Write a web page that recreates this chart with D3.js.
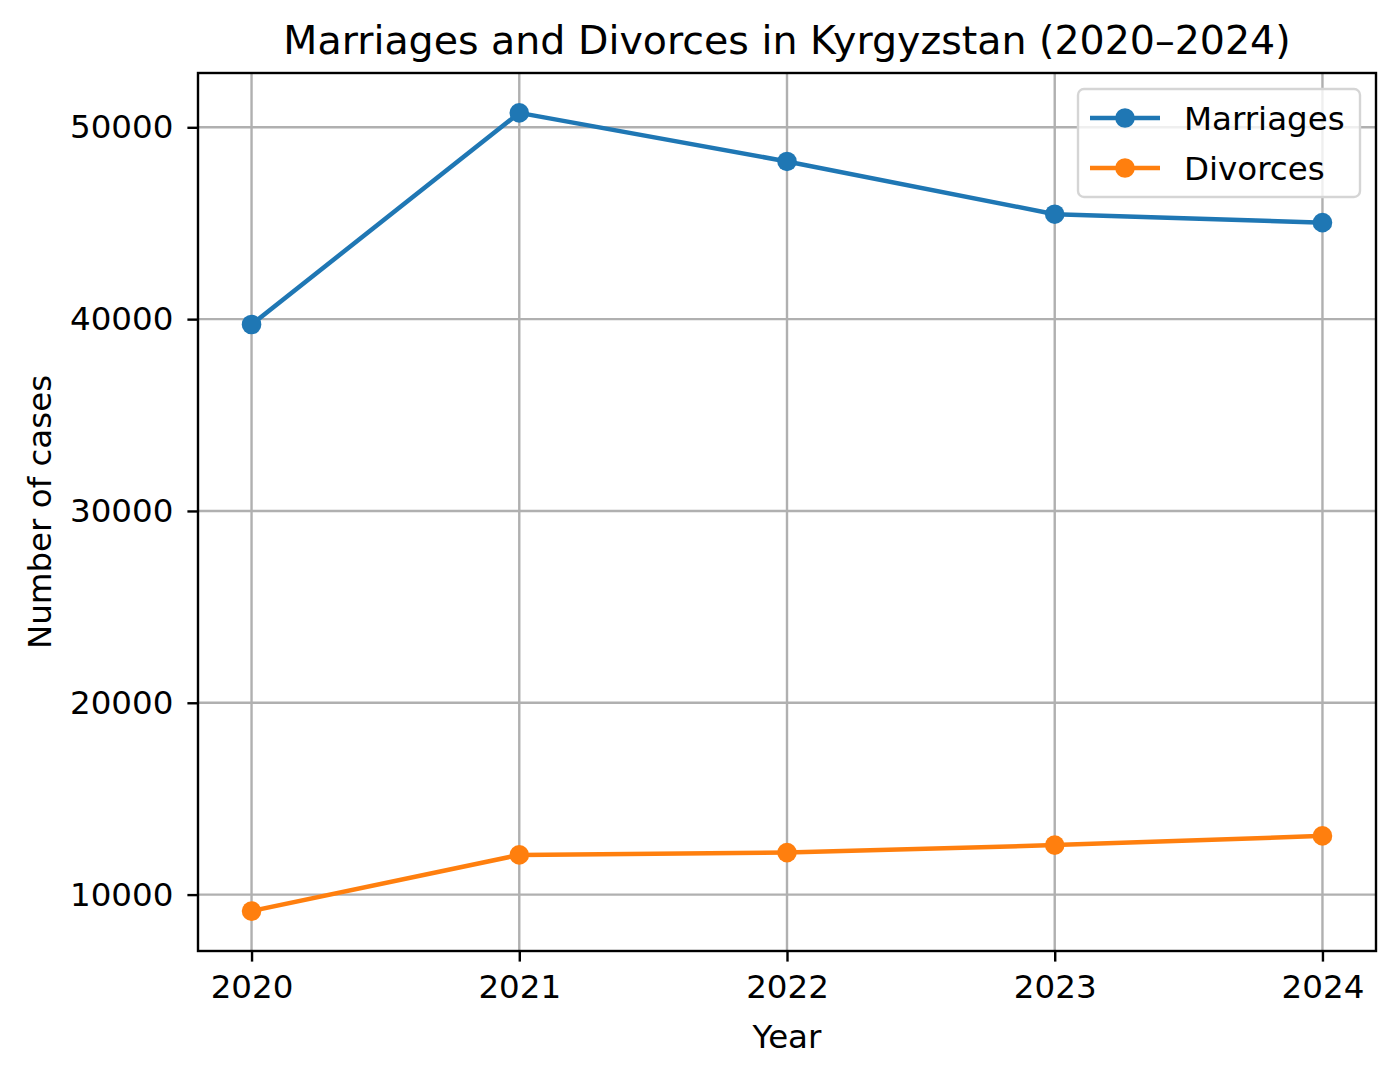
<!DOCTYPE html>
<html><head><meta charset="utf-8">
<script src="https://cdn.jsdelivr.net/npm/d3@7"></script>
<style>
html,body{margin:0;padding:0;background:#fff;}
svg{display:block;font-family:"DejaVu Sans",sans-serif;}
</style></head>
<body>
<svg id="chart" width="1400" height="1078"></svg>
<script>
const years = [2020, 2021, 2022, 2023, 2024];
const marriages = [39720, 50750, 48220, 45470, 45030];
const divorces = [9140, 12070, 12190, 12580, 13060];
const yTicks = [10000, 20000, 30000, 40000, 50000];
const seriesNames = ["Marriages", "Divorces"];
const colors = ["#1f77b4", "#ff7f0e"];
const titleText = "Marriages and Divorces in Kyrgyzstan (2020\u20132024)";

const svg = d3.select("#chart");
const m = {left: 198, top: 73, right: 1376, bottom: 951};
const W = m.right - m.left, H = m.bottom - m.top;

const all = marriages.concat(divorces);
const lo = d3.min(all), hi = d3.max(all), pad = (hi - lo) * 0.05;
const x = d3.scaleLinear().domain([2020 - 0.2, 2024 + 0.2]).range([m.left, m.right]);
const y = d3.scaleLinear().domain([lo - pad, hi + pad]).range([m.bottom, m.top]);

const g = svg.append("g");
// grid
g.selectAll(".gx").data(years).enter().append("line")
  .attr("x1", d => x(d)).attr("x2", d => x(d)).attr("y1", m.top).attr("y2", m.bottom)
  .attr("stroke", "#b0b0b0").attr("stroke-width", 2.4);
g.selectAll(".gy").data(yTicks).enter().append("line")
  .attr("y1", d => y(d)).attr("y2", d => y(d)).attr("x1", m.left).attr("x2", m.right)
  .attr("stroke", "#b0b0b0").attr("stroke-width", 2.4);

// axes
const xAxis = d3.axisBottom(x).tickValues(years).tickFormat(d3.format("d")).tickSizeOuter(0).tickSize(10.6).tickPadding(12);
const yAxis = d3.axisLeft(y).tickValues(yTicks).tickFormat(d3.format("d")).tickSizeOuter(0).tickSize(10.6).tickPadding(14);
const gx = svg.append("g").attr("transform", `translate(0,${m.bottom})`).call(xAxis);
const gy = svg.append("g").attr("transform", `translate(${m.left},0)`).call(yAxis);
[gx, gy].forEach(a => {
  a.select(".domain").remove();
  a.selectAll(".tick line").attr("stroke", "#000").attr("stroke-width", 2.4);
  a.selectAll(".tick text").attr("fill", "#000").style("font-size", "32.5px").style("font-family", "DejaVu Sans");
});
gx.selectAll(".tick text").attr("dy", "0.76em");

// lines
const series = [marriages, divorces];
const line = d3.line().x((d, i) => x(years[i])).y(d => y(d));
series.forEach((s, k) => {
  svg.append("path").datum(s).attr("d", line).attr("fill", "none")
    .attr("stroke", colors[k]).attr("stroke-width", 4.5).attr("stroke-linejoin", "round").attr("stroke-linecap", "square");
  svg.selectAll(".pt" + k).data(s).enter().append("circle")
    .attr("cx", (d, i) => x(years[i])).attr("cy", d => y(d)).attr("r", 9.8).attr("fill", colors[k]);
});

// frame
svg.append("rect").attr("x", m.left).attr("y", m.top).attr("width", W).attr("height", H)
  .attr("fill", "none").attr("stroke", "#000").attr("stroke-width", 2.4);

// title & labels
svg.append("text").attr("x", (m.left + m.right) / 2).attr("y", 54).attr("text-anchor", "middle")
  .style("font-size", "39.5px").text(titleText);
svg.append("text").attr("x", (m.left + m.right) / 2).attr("y", 1048).attr("text-anchor", "middle")
  .style("font-size", "32.5px").text("Year");
svg.append("text").attr("transform", `translate(51,${(m.top + m.bottom) / 2}) rotate(-90)`).attr("text-anchor", "middle")
  .style("font-size", "32.5px").text("Number of cases");

// legend
const lg = svg.append("g");
lg.append("rect").attr("x", 1078).attr("y", 89).attr("width", 282).attr("height", 108).attr("rx", 6)
  .attr("fill", "#fff").attr("fill-opacity", 0.8).attr("stroke", "#d5d5d5").attr("stroke-width", 2.4);
seriesNames.forEach((n, k) => {
  const cy = 118 + k * 50;
  lg.append("line").attr("x1", 1090).attr("x2", 1160).attr("y1", cy).attr("y2", cy)
    .attr("stroke", colors[k]).attr("stroke-width", 4.5);
  lg.append("circle").attr("cx", 1125).attr("cy", cy).attr("r", 9.8).attr("fill", colors[k]);
  lg.append("text").attr("x", 1184).attr("y", cy).attr("dy", "0.36em").style("font-size", "32.5px").text(n);
});
</script>
</body></html>
